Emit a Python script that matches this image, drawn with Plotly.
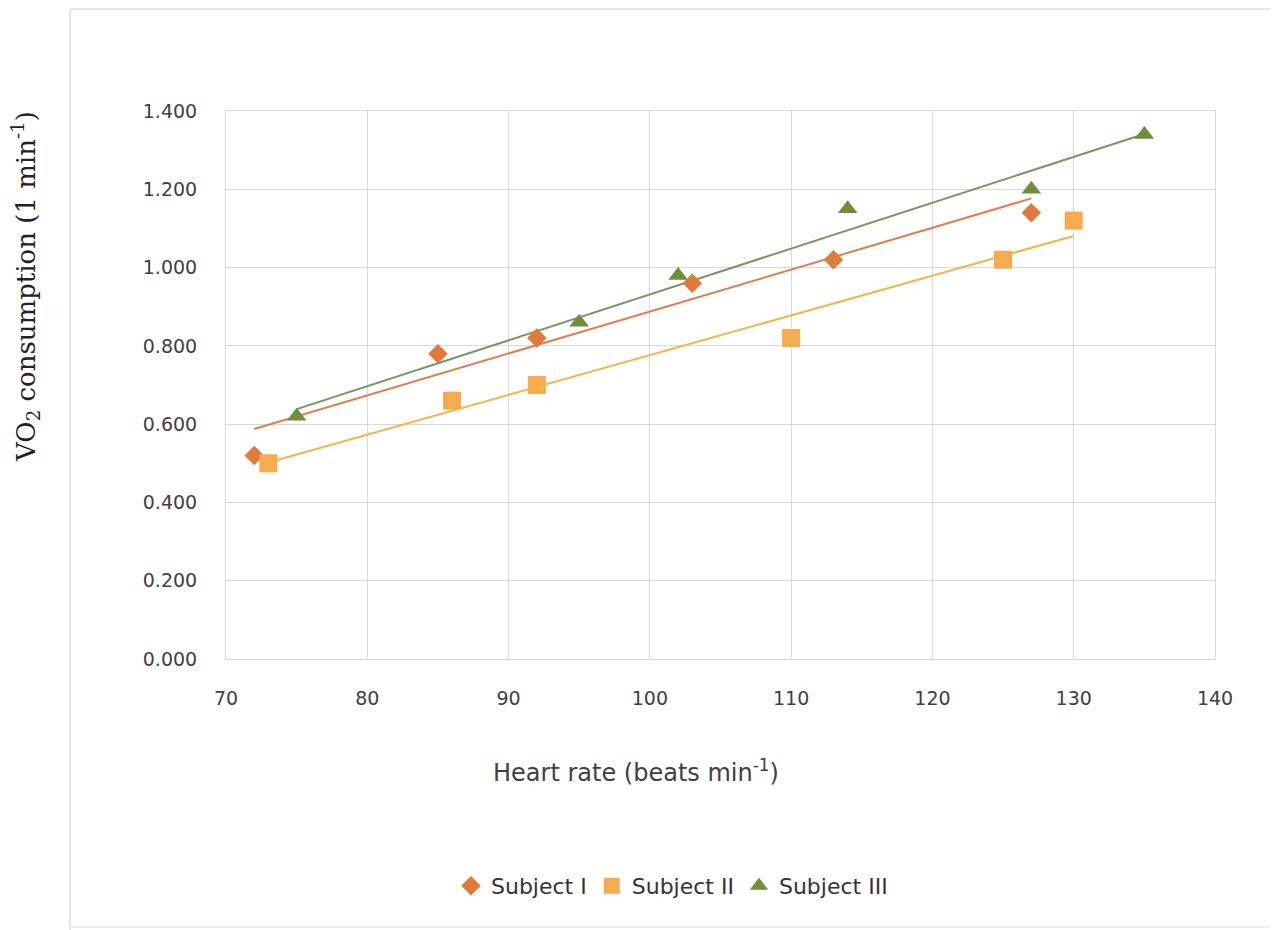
import numpy as np
import plotly.graph_objects as go

# ---- data ----
series_names = ["Subject I", "Subject II", "Subject III"]
hr_subject1 = [72, 85, 92, 103, 113, 127]
vo2_subject1 = [0.52, 0.78, 0.82, 0.96, 1.02, 1.14]
hr_subject2 = [73, 86, 92, 110, 125, 130]
vo2_subject2 = [0.50, 0.66, 0.70, 0.82, 1.02, 1.12]
hr_subject3 = [75, 95, 102, 114, 127, 135]
vo2_subject3 = [0.62, 0.86, 0.98, 1.15, 1.20, 1.34]
x_ticks = [70, 80, 90, 100, 110, 120, 130, 140]
y_ticks = [0.0, 0.2, 0.4, 0.6, 0.8, 1.0, 1.2, 1.4]

marker_colors = ["#E0793A", "#F6AC4E", "#6F8E3C"]
line_colors = ["#E27C4E", "#F8B347", "#7C9468"]
symbols = ["diamond", "square", "triangle-up"]
sizes = [15, 18, 17]

OFF = 8  # page body margin
W, H = 1278 - OFF, 930 - OFF
L, R, T, B = 226 - OFF, 63, 111 - OFF, 930 - 659
pw, ph = W - L - R, H - T - B

def px_x(p):
    return (p - OFF - L) / pw

def px_y(p):
    return (H - B - (p - OFF)) / ph

fig = go.Figure()
data = [(hr_subject1, vo2_subject1), (hr_subject2, vo2_subject2), (hr_subject3, vo2_subject3)]

# trendlines
for i, (xs, ys) in enumerate(data):
    m, c = np.polyfit(xs, ys, 1)
    xl = [min(xs), max(xs)]
    fig.add_trace(go.Scatter(x=xl, y=[m * v + c for v in xl], mode="lines",
                             line=dict(color=line_colors[i], width=2),
                             showlegend=False, hoverinfo="skip"))

for i, (xs, ys) in enumerate(data):
    fig.add_trace(go.Scatter(x=xs, y=ys, mode="markers", name=series_names[i],
                             marker=dict(symbol=symbols[i], size=sizes[i],
                                         color=marker_colors[i], line=dict(width=0))))

grid = "#D9D9D9"
tickfont = dict(family="DejaVu Sans", size=19, color="#404040")
fig.update_xaxes(range=[70, 140], tickvals=x_ticks, showgrid=True, gridcolor=grid,
                 gridwidth=1, zeroline=False, showline=True, linecolor=grid, mirror=True,
                 ticks="", ticklabelstandoff=22, tickfont=tickfont)
fig.update_yaxes(range=[0, 1.4], tickvals=y_ticks, tickformat=".3f", showgrid=True,
                 gridcolor=grid, gridwidth=1, zeroline=False, showline=True, linecolor=grid,
                 mirror=True, ticks="", ticklabelstandoff=24, tickfont=tickfont)

fig.update_layout(
    width=W, height=H,
    margin=dict(l=L, r=R, t=T, b=B, autoexpand=False),
    paper_bgcolor="white", plot_bgcolor="white",
    legend=dict(orientation="h", x=px_x(672), y=px_y(886), xanchor="center", yanchor="middle",
                font=dict(family="DejaVu Sans", size=22, color="#333333"),
                itemsizing="trace", itemwidth=30, tracegroupgap=0,
                bgcolor="rgba(0,0,0,0)"),
    annotations=[
        dict(text="Heart rate (beats min<sup>-1</sup>)", xref="paper", yref="paper",
             x=px_x(636), y=px_y(771), xanchor="center", yanchor="middle", showarrow=False,
             font=dict(family="DejaVu Sans", size=24, color="#404040")),
        dict(text="VO<sub>2</sub> consumption (1 min<sup>-1</sup>)", xref="paper", yref="paper",
             x=px_x(25), y=px_y(287), xanchor="center", yanchor="middle", showarrow=False,
             textangle=-90, font=dict(family="DejaVu Serif", size=26, color="#222222")),
    ],
    shapes=[
        dict(type="line", xref="paper", yref="paper", x0=px_x(70), x1=px_x(70),
             y0=px_y(9), y1=px_y(930), line=dict(color="#E6E6E6", width=2)),
        dict(type="line", xref="paper", yref="paper", x0=px_x(70), x1=px_x(1278),
             y0=px_y(9), y1=px_y(9), line=dict(color="#E6E6E6", width=2)),
        dict(type="line", xref="paper", yref="paper", x0=px_x(70), x1=px_x(1278),
             y0=px_y(927), y1=px_y(927), line=dict(color="#EEEEEE", width=2)),
    ],
)

fig.write_html("out.html")
